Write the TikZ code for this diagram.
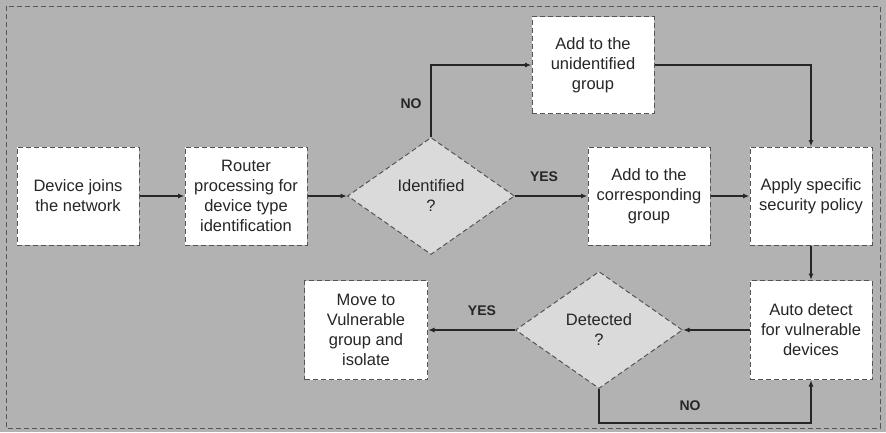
\documentclass[tikz,border=0pt]{standalone}
\usepackage{fontspec}
\setmainfont{Liberation Sans}
\usetikzlibrary{shapes.geometric,arrows.meta}
\definecolor{bggray}{HTML}{B2B2B2}
\definecolor{dfill}{HTML}{DADADA}
\definecolor{edge}{HTML}{555555}
\definecolor{ink}{HTML}{262626}
\tikzset{
  dsh/.style={dash pattern=on 5pt off 3pt},
  stepbox/.style={draw=edge, dsh, line width=1pt, fill=white,
    minimum width=122pt, minimum height=98pt, inner sep=0pt, align=center, text=ink,
    font=\fontsize{16.5}{20}\selectfont},
  decision/.style={diamond, draw=edge, dsh, line width=1pt, fill=dfill,
    minimum width=167pt, minimum height=117pt, inner sep=0pt, align=center, text=ink,
    font=\fontsize{16.5}{20}\selectfont},
  arr/.style={draw=ink, line width=1.3pt, -{Latex[length=6.5pt,width=5pt]}},
  lbl/.style={font=\bfseries\fontsize{14}{16}\selectfont, text=ink, inner sep=0pt}
}
\begin{document}
\begin{tikzpicture}[x=1pt,y=-1pt]
\fill[bggray] (0,0) rectangle (886,432);
\useasboundingbox (0,0) rectangle (886,432);
\draw[draw=edge, dsh, line width=1pt] (6,6) rectangle (880,428);

\node[stepbox] (dev) at (78,196) {Device joins\\the network};
\node[stepbox] (rtr) at (246,196) {Router\\processing for\\device type\\identification};
\node[decision] (id) at (431,196) {Identified\\?};
\node[stepbox, minimum height=97pt] (unid) at (593,65) {Add to the\\unidentified\\group};
\node[stepbox] (corr) at (649,196) {Add to the\\corresponding\\group};
\node[stepbox] (apply) at (811,196) {Apply specific\\security policy};
\node[stepbox, minimum height=99pt] (auto) at (811,330) {Auto detect\\for vulnerable\\devices};
\node[decision] (det) at (599,330) {Detected\\?};
\node[stepbox, minimum width=123pt, minimum height=99pt] (move) at (366,330) {Move to\\Vulnerable\\group and\\isolate};

\draw[arr] (dev.east) -- (rtr.west);
\draw[arr] (rtr.east) -- (id.west);
\draw[arr] (id.north) |- (unid.west);
\node[lbl] (no1) at (411,104) {NO};
\draw[arr] (unid.east) -| (apply.north);
\draw[arr] (id.east) -- (corr.west);
\node[lbl] (yes1) at (544,177) {YES};
\draw[arr] (corr.east) -- (apply.west);
\draw[arr] (apply.south) -- (auto.north);
\draw[arr] (auto.west) -- (det.east);
\draw[arr] (det.west) -- (move.east);
\node[lbl] (yes2) at (482,311) {YES};
\coordinate (lowturn) at (599,423);
\draw[arr] (det.south) -- (lowturn) -| (auto.south);
\node[lbl] (no2) at (690,406) {NO};
\end{tikzpicture}
\end{document}
